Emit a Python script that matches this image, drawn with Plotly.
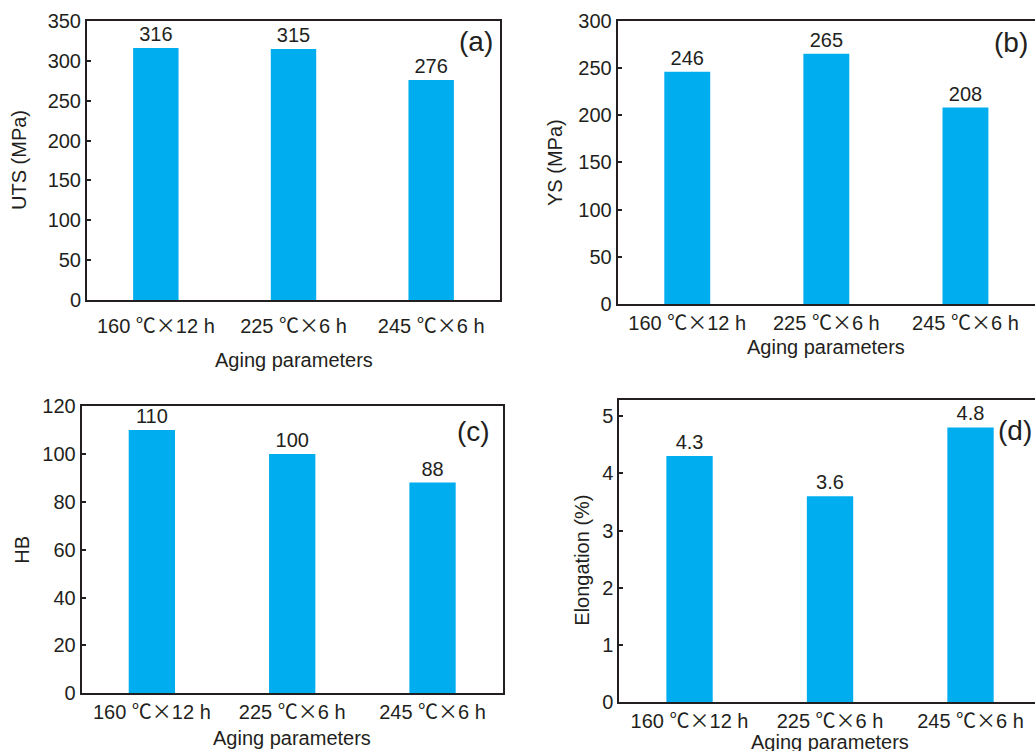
import plotly.graph_objects as go

categories = ["160 ℃×12 h", "225 ℃×6 h", "245 ℃×6 h"]
uts_values = [316, 315, 276]
ys_values = [246, 265, 208]
hb_values = [110, 100, 88]
elong_values = [4.3, 3.6, 4.8]
elong_labels = ["4.3", "3.6", "4.8"]

y_titles = ["UTS (MPa)", "YS (MPa)", "HB", "Elongation (%)"]
panel_tags = ["(a)", "(b)", "(c)", "(d)"]
x_title = "Aging parameters"

W, H = 1035, 751
FONT = "Liberation Sans, Arial, Noto Sans CJK SC, sans-serif"
CJK = "Noto Sans CJK SC"
TXT = "#231f20"
BAR = "#00aeef"


def px(x):
    return x / W


def py(y):
    return 1 - y / H


def styled(cat):
    # render the degree-Celsius and multiplication signs with a CJK face
    return cat.replace("℃×", f"<span style='font-family:{CJK}'>℃×</span>")


tick_text = [styled(c) for c in categories]

# panel geometry in pixels: left, right, top, bottom
panels = [
    dict(l=87, r=500, t=21, b=300),
    dict(l=617.7, r=1035, t=20.7, b=304),
    dict(l=81.7, r=502.7, t=406, b=693.3),
    dict(l=619.3, r=1035, t=400, b=702.3),
]
yranges = [[0, 350], [0, 300], [0, 120], [0, 5.28]]
ydtick = [50, 50, 20, 1]
xranges = [[-0.5, 2.5], [-0.5, 2.5], [-0.5, 2.5], [-0.5, 2.459]]
series = [uts_values, ys_values, hb_values, elong_values]
texts = [[str(v) for v in uts_values], [str(v) for v in ys_values],
         [str(v) for v in hb_values], elong_labels]
right_line = [True, False, True, False]
xlabel_standoff = [7, 0, 0, 0]

fig = go.Figure()
layout = dict(
    width=W, height=H, margin=dict(l=0, r=0, t=0, b=0),
    paper_bgcolor="white", plot_bgcolor="white", showlegend=False,
    font=dict(family=FONT, color=TXT, size=20),
)
annotations = []

for i in range(4):
    xa = "x" if i == 0 else f"x{i+1}"
    ya = "y" if i == 0 else f"y{i+1}"
    fig.add_trace(go.Bar(
        x=categories, y=series[i], xaxis=xa, yaxis=ya,
        marker=dict(color=BAR, line=dict(width=0)), width=0.33,
        text=texts[i], textposition="outside", cliponaxis=False,
        textfont=dict(size=20, color=TXT, family=FONT),
    ))
    p = panels[i]
    xkey = "xaxis" if i == 0 else f"xaxis{i+1}"
    ykey = "yaxis" if i == 0 else f"yaxis{i+1}"
    layout[xkey] = dict(
        domain=[px(p["l"]), px(p["r"])], anchor=ya, range=xranges[i],
        tickmode="array", tickvals=categories, ticktext=tick_text,
        ticklabelstandoff=xlabel_standoff[i],
        showline=True, linecolor=TXT, linewidth=2, mirror=True,
        ticks="", showgrid=False, zeroline=False,
        tickfont=dict(size=20, color=TXT, family=FONT), automargin=False,
    )
    layout[ykey] = dict(
        domain=[py(p["b"]), py(p["t"])], anchor=xa, range=yranges[i],
        dtick=ydtick[i], tick0=0,
        showline=True, linecolor=TXT, linewidth=2, mirror=right_line[i],
        ticks="inside", ticklen=4, tickwidth=1.5, tickcolor=TXT,
        showgrid=False, zeroline=False,
        tickfont=dict(size=20, color=TXT, family=FONT), automargin=False,
    )

# axis titles and panel tags (pixel centres)
xtitle_pos = [(294, 360), (826, 347), (292, 738), (830, 742)]
ytitle_pos = [(19, 160), (555, 163), (21.7, 550), (581.7, 560)]
tag_pos = [(475.5, 41.7), (1010.8, 43), (473, 431.7), (1014.5, 430)]
for i in range(4):
    annotations.append(dict(
        x=px(xtitle_pos[i][0]), y=py(xtitle_pos[i][1]), xref="paper", yref="paper",
        text=x_title, showarrow=False, xanchor="center", yanchor="middle",
        font=dict(size=20, color=TXT, family=FONT)))
    annotations.append(dict(
        x=px(ytitle_pos[i][0]), y=py(ytitle_pos[i][1]), xref="paper", yref="paper",
        text=y_titles[i], showarrow=False, textangle=-90,
        xanchor="center", yanchor="middle",
        font=dict(size=20, color=TXT, family=FONT)))
    annotations.append(dict(
        x=px(tag_pos[i][0]), y=py(tag_pos[i][1]), xref="paper", yref="paper",
        text=panel_tags[i], showarrow=False, xanchor="center", yanchor="middle",
        font=dict(size=28, color=TXT, family=FONT)))

layout["annotations"] = annotations
fig.update_layout(**layout)
fig.write_html("out.html", config={"displayModeBar": False},
               post_script="document.body.style.margin='0';")
